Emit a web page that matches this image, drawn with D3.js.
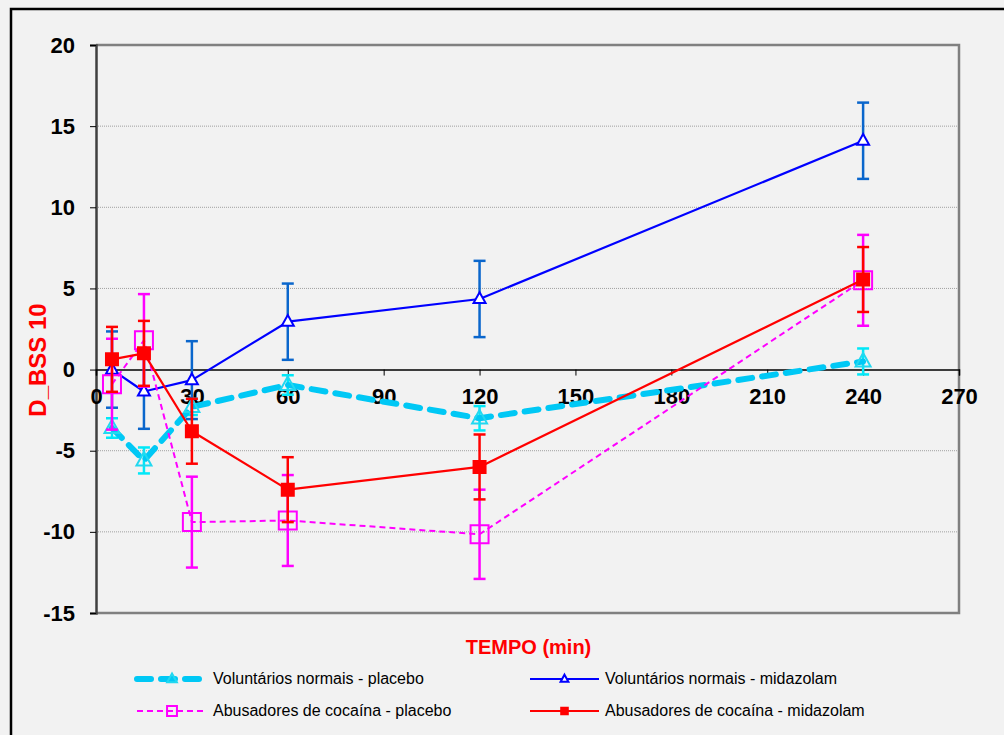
<!DOCTYPE html>
<html>
<head>
<meta charset="utf-8">
<script src="https://d3js.org/d3.v7.min.js"></script>
<style>
  html, body { margin: 0; padding: 0; background: #f2f2f2; }
  svg { display: block; }
</style>
</head>
<body>
<svg id="chart" width="1004" height="735"></svg>
<script>
// Time points (min)
const tempo = [5, 15, 30, 60, 120, 240];

// Mean D_BSS 10 and error for each group
const normaisPlacebo      = [-3.6, -5.6, -2.3, -0.95, -3.0, 0.5];
const normaisPlaceboErr   = [0.6, 0.8, 0.5, 0.6, 0.75, 0.8];
const normaisMidazolam    = [0.0, -1.35, -0.65, 2.95, 4.35, 14.1];
const normaisMidazolamErr = [2.35, 2.3, 2.4, 2.35, 2.35, 2.35];
const cocainaPlacebo      = [-0.9, 1.8, -9.4, -9.3, -10.15, 5.5];
const cocainaPlaceboErr   = [2.8, 2.85, 2.8, 2.8, 2.75, 2.8];
const cocainaMidazolam    = [0.63, 1.0, -3.8, -7.4, -6.0, 5.55];
const cocainaMidazolamErr = [2.0, 2.0, 2.0, 2.0, 2.0, 2.0];

const xTicks = [0, 30, 60, 90, 120, 150, 180, 210, 240, 270];
const yTicks = [20, 15, 10, 5, 0, -5, -10, -15];
const gridValues = [15, 10, 5, -5, -10];

const seriesNames = [
  "Voluntários normais - placebo",
  "Voluntários normais - midazolam",
  "Abusadores de cocaína - placebo",
  "Abusadores de cocaína - midazolam"
];

const series = [
  { name: seriesNames[0], values: normaisPlacebo, err: normaisPlaceboErr,
    line: "#00c8f5", lineWidth: 6, dash: "14,10", cap: "round",
    errColor: "#00e8f8", marker: "triangle", markerStroke: "#22d8f0", markerFill: "none", markerSize: 15 },
  { name: seriesNames[1], values: normaisMidazolam, err: normaisMidazolamErr,
    line: "#0000ff", lineWidth: 2.2, dash: null, cap: "butt",
    errColor: "#0a66cc", marker: "triangle", markerStroke: "#0000ff", markerFill: "#ffffff", markerSize: 12 },
  { name: seriesNames[2], values: cocainaPlacebo, err: cocainaPlaceboErr,
    line: "#ff00ff", lineWidth: 2, dash: "6,4", cap: "butt",
    errColor: "#ff00ff", marker: "square", markerStroke: "#ff00ff", markerFill: "none", markerSize: 18 },
  { name: seriesNames[3], values: cocainaMidazolam, err: cocainaMidazolamErr,
    line: "#ff0000", lineWidth: 2.2, dash: null, cap: "butt",
    errColor: "#ff0000", marker: "square", markerStroke: "#ff0000", markerFill: "#ff0000", markerSize: 12 }
];

const svg = d3.select("#chart");
const font = "'Liberation Sans', Arial, sans-serif";

// Outer chart frame
svg.append("rect").attr("x", 0).attr("y", 0).attr("width", 1004).attr("height", 735).attr("fill", "#f2f2f2");
svg.append("path").attr("d", "M11,740 V9 H1010")
  .attr("fill", "none").attr("stroke", "#000").attr("stroke-width", 2.5);

const plot = { left: 96, right: 959, top: 45, bottom: 613 };
const x = d3.scaleLinear().domain([0, 270]).range([plot.left, plot.right]);
const y = d3.scaleLinear().domain([-15, 20]).range([plot.bottom, plot.top]);

// Plot area
svg.append("rect")
  .attr("x", plot.left).attr("y", plot.top)
  .attr("width", plot.right - plot.left).attr("height", plot.bottom - plot.top)
  .attr("fill", "#f2f2f2");

// Dotted grid lines
svg.append("g").selectAll("line").data(gridValues).join("line")
  .attr("x1", plot.left).attr("x2", plot.right)
  .attr("y1", d => y(d)).attr("y2", d => y(d))
  .attr("stroke", "#a0a0a0").attr("stroke-width", 1).attr("stroke-dasharray", "1,1");

// Plot border (top, right, bottom)
svg.append("path")
  .attr("d", `M${plot.left},${plot.top} H${plot.right} V${plot.bottom} H${plot.left}`)
  .attr("fill", "none").attr("stroke", "#808080").attr("stroke-width", 2.5);

// Y axis
const yAxis = d3.axisLeft(y).tickValues(yTicks).tickSize(6).tickPadding(15).tickFormat(d3.format("d"));
const gy = svg.append("g").attr("transform", `translate(${plot.left},0)`).call(yAxis);
gy.select(".domain").attr("stroke", "#404040").attr("stroke-width", 2.5);
gy.selectAll(".tick line").attr("stroke", "#000");
gy.selectAll("text").attr("font-family", font).attr("font-size", 22).attr("font-weight", "bold").attr("fill", "#000")
  .text(d => d < 0 ? "-" + Math.abs(d) : d);

// X axis at y = 0
const xAxis = d3.axisBottom(x).tickValues(xTicks).tickSize(6).tickPadding(13).tickFormat(d3.format("d"));
const gx = svg.append("g").attr("transform", `translate(0,${y(0)})`).call(xAxis);
gx.select(".domain").attr("stroke", "#000").attr("stroke-width", 1.5);
gx.selectAll(".tick line").attr("stroke", "#000");
gx.selectAll("text").attr("font-family", font).attr("font-size", 22).attr("font-weight", "bold").attr("fill", "#000");

// Axis titles
svg.append("text").attr("x", (plot.left + plot.right) / 2 + 1).attr("y", 654)
  .attr("text-anchor", "middle").attr("font-family", font).attr("font-size", 20).attr("font-weight", "bold")
  .attr("fill", "#ff0000").text("TEMPO (min)");
svg.append("text").attr("transform", "translate(46,360) rotate(-90)")
  .attr("text-anchor", "middle").attr("font-family", font).attr("font-size", 24).attr("font-weight", "bold")
  .attr("fill", "#ff0000").text("D_BSS 10");

function markerPath(type, size) {
  if (type === "triangle") {
    const h = size * 0.9;
    return `M0,${-h * 0.62} L${size / 2},${h * 0.38} L${-size / 2},${h * 0.38} Z`;
  }
  const s = size / 2;
  return `M${-s},${-s} H${s} V${s} H${-s} Z`;
}

function drawMarker(g, s, cx, cy, scale) {
  const size = s.markerSize * scale;
  g.append("path")
    .attr("d", markerPath(s.marker, size))
    .attr("transform", `translate(${cx},${cy})`)
    .attr("fill", s.markerFill).attr("stroke", s.markerStroke)
    .attr("stroke-width", 2);
}

const capW = 6;
series.forEach(s => {
  const g = svg.append("g");
  const pts = tempo.map((t, i) => ({ t, v: s.values[i], e: s.err[i] }));

  // Error bars
  const eb = g.append("g").attr("stroke", s.errColor).attr("stroke-width", 2.5);
  pts.forEach(p => {
    eb.append("line").attr("x1", x(p.t)).attr("x2", x(p.t)).attr("y1", y(p.v + p.e)).attr("y2", y(p.v - p.e));
    [p.v + p.e, p.v - p.e].forEach(c => {
      eb.append("line").attr("x1", x(p.t) - capW).attr("x2", x(p.t) + capW).attr("y1", y(c)).attr("y2", y(c));
    });
  });

  // Line
  const line = d3.line().x(p => x(p.t)).y(p => y(p.v));
  g.append("path").datum(pts).attr("d", line)
    .attr("fill", "none").attr("stroke", s.line).attr("stroke-width", s.lineWidth)
    .attr("stroke-dasharray", s.dash).attr("stroke-linecap", s.cap).attr("stroke-linejoin", "round");

  // Markers
  pts.forEach(p => drawMarker(g, s, x(p.t), y(p.v), 1));
});

// Legend
const legendPos = [
  { x: 137, y: 679, tx: 213 },
  { x: 530, y: 679, tx: 605 },
  { x: 137, y: 711, tx: 213 },
  { x: 530, y: 711, tx: 605 }
];
series.forEach((s, i) => {
  const lp = legendPos[i];
  const g = svg.append("g");
  const x1 = lp.x, x2 = lp.tx - 6;
  g.append("line").attr("x1", x1).attr("x2", x2).attr("y1", lp.y).attr("y2", lp.y)
    .attr("stroke", s.line).attr("stroke-width", s.lineWidth)
    .attr("stroke-dasharray", s.dash).attr("stroke-linecap", s.cap);
  drawMarker(g, s, (x1 + x2) / 2, lp.y, s.marker === "triangle" ? 0.65 : 0.55);
  g.append("text").attr("x", lp.tx).attr("y", lp.y + 5)
    .attr("font-family", font).attr("font-size", 16).attr("fill", "#000").text(s.name);
});
</script>
</body>
</html>
